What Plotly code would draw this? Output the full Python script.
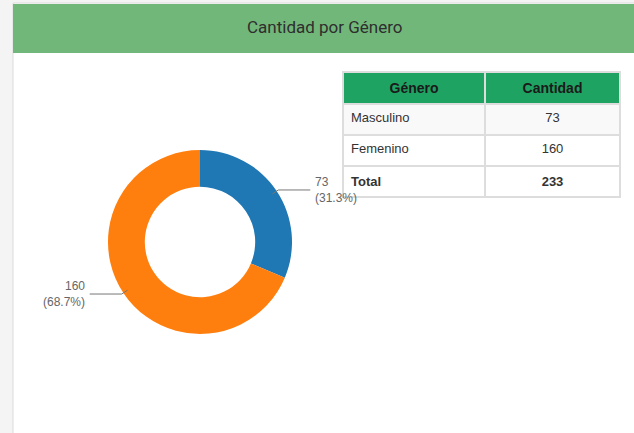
import math
import plotly.graph_objects as go

# ---- data ----
generos = ["Masculino", "Femenino"]
cantidades = [73, 160]
total_label = "Total"
col_headers = ["Género", "Cantidad"]
titulo = "Cantidad por Género"
colores = ["#1f77b4", "#ff7f0e"]

W, H = 634, 433


def px(x):
    return x / W


def py(y):
    return 1 - y / H


fig = go.Figure()

# pie geometry (pixels)
cx, cy, R = 200, 242, 92

fig.add_trace(go.Pie(
    labels=generos,
    values=cantidades,
    hole=0.6,
    sort=False,
    direction="clockwise",
    rotation=0,
    marker=dict(colors=colores, line=dict(width=0)),
    textinfo="none",
    hoverinfo="skip",
    showlegend=False,
    domain=dict(x=[px(cx - R), px(cx + R)], y=[py(cy + R), py(cy - R)]),
))

# table
total = sum(cantidades)
col1 = generos + [f"<b>{total_label}</b>"]
col2 = [str(v) for v in cantidades] + [f"<b>{total}</b>"]
row_fill = ["#f9f9f9", "#ffffff", "#ffffff"]
fig.add_trace(go.Table(
    domain=dict(x=[px(343), px(620)], y=[py(215), py(72)]),
    columnwidth=[142, 135],
    header=dict(
        values=[f"<b>{h}</b>" for h in col_headers],
        fill_color="#1fa363",
        line=dict(color="#dddddd", width=2),
        align="center",
        height=30,
        font=dict(family="Liberation Sans, Arial", size=14, color="#1a1a1a"),
    ),
    cells=dict(
        values=[col1, col2],
        fill_color=[row_fill, row_fill],
        line=dict(color="#dddddd", width=2),
        align=["left", "center"],
        height=31,
        font=dict(family="Liberation Sans, Arial", size=13, color="#333333"),
    ),
))

shapes = []
annotations = []

# panel
shapes.append(dict(type="rect", xref="paper", yref="paper",
                   x0=px(13), x1=px(660), y0=py(460), y1=py(3),
                   fillcolor="#ffffff", line=dict(color="#dcdcdc", width=1), layer="below"))
shapes.append(dict(type="rect", xref="paper", yref="paper",
                   x0=px(13), x1=px(660), y0=py(53), y1=py(4),
                   fillcolor="#72b77a", line=dict(width=0), layer="below"))

annotations.append(dict(text=titulo, xref="paper", yref="paper",
                        x=px(325), y=py(27), showarrow=False,
                        xanchor="center", yanchor="middle",
                        font=dict(family="Roboto, Liberation Sans", size=17, color="#2e2e2e")))

# outside labels with leader lines, positions derived from data
cum = 0
for v, c in zip(cantidades, colores):
    frac_mid = (cum + v / 2) / total
    cum += v
    ang = 2 * math.pi * frac_mid  # clockwise from 12 o'clock
    s, co = math.sin(ang), math.cos(ang)
    x0, y0 = cx + 87 * s, cy - 87 * co
    x1, y1 = cx + 94 * s, cy - 94 * co
    side = 1 if s >= 0 else -1
    x2 = x1 + side * 32
    shapes.append(dict(type="path", xref="paper", yref="paper",
                       path=f"M {px(x0)} {py(y0)} L {px(x1)} {py(y1)} L {px(x2)} {py(y1)}",
                       line=dict(color="#777777", width=1)))
    pct = 100 * v / total
    annotations.append(dict(text=f"{v}<br>({pct:.1f}%)", xref="paper", yref="paper",
                            x=px(x2 + side * 3), y=py(y1), showarrow=False,
                            xanchor="left" if side > 0 else "right", yanchor="middle",
                            align="left" if side > 0 else "right",
                            font=dict(family="Liberation Sans, Arial", size=12, color="#666666")))

fig.update_layout(
    width=W, height=H,
    margin=dict(l=0, r=0, t=0, b=0),
    paper_bgcolor="#f4f4f4",
    plot_bgcolor="#ffffff",
    shapes=shapes,
    annotations=annotations,
)

fig.write_html("out.html",
               config={"displayModeBar": False},
               post_script="document.body.style.margin='0';document.body.style.background='#f4f4f4';")
